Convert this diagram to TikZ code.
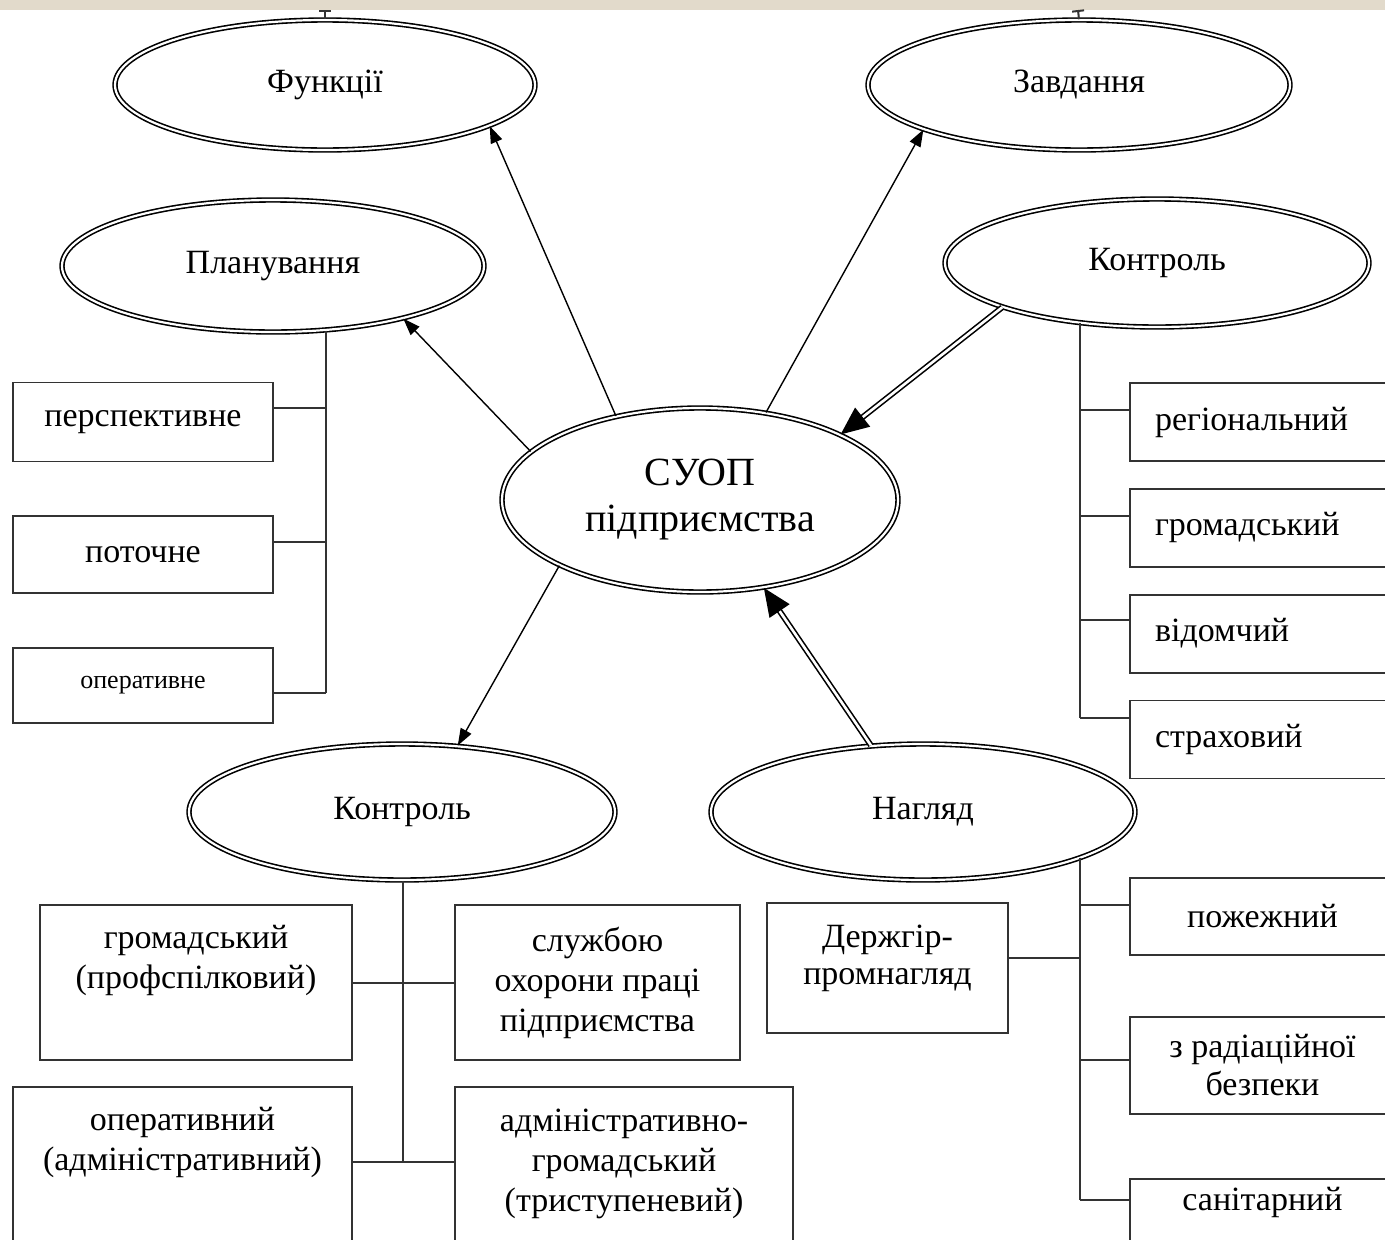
\documentclass[tikz,border=0pt]{standalone}
\usepackage{fontspec}
\setmainfont{Liberation Serif}
\usetikzlibrary{shapes.geometric,arrows.meta,positioning}
\definecolor{slidebg}{RGB}{226,218,203}

\begin{document}
\begin{tikzpicture}[
        x=1pt, y=1pt,
        font=\fontsize{34}{40}\selectfont,
        oval/.style={ellipse, draw=black, double, double distance=2.2pt, line width=1.6pt, inner sep=0pt, align=center},
        box/.style={rectangle, draw=black!80, line width=1.8pt, inner sep=0pt, align=center},
        rbox/.style={box, minimum height=78pt, text width=245pt, align=left, inner xsep=25pt},
        link/.style={draw=black!80, line width=2pt},
        arr/.style={line width=1.4pt, -{Triangle[length=17pt,width=12pt]}},
        dblarr/.style={double, double distance=2.6pt, line width=1.6pt, -{Triangle[length=28pt,width=24pt]}}]
        % BACKGROUND
        \fill[white] (0,0) rectangle (1385,-1240);
        \fill[slidebg] (0,0) rectangle (1385,-10);
        \useasboundingbox (0,0) rectangle (1385,-1240);

        % NODES
        % ellipses
        \node[oval, minimum width=420pt, minimum height=130pt] (func) at (325,-85) {Функції};
        \node[oval, minimum width=422pt, minimum height=130pt] (task) at (1079,-85) {Завдання};
        \node[oval, minimum width=422pt, minimum height=132pt] (plan) at (273,-266) {Планування};
        \node[oval, minimum width=424pt, minimum height=128pt] (ctrlR) at (1157,-263) {Контроль};
        \node[oval, minimum width=396pt, minimum height=184pt, font=\fontsize{40}{46}\selectfont] (suop) at (700,-500) {СУОП\\підприємства};
        \node[oval, minimum width=426pt, minimum height=136pt] (ctrlB) at (402,-812) {Контроль};
        \node[oval, minimum width=424pt, minimum height=136pt] (nagl) at (923,-812) {Нагляд};
        % planning boxes
        \node[box, minimum width=260pt, minimum height=79pt] (persp) at (143,-422) {перспективне};
        \node[box, minimum width=260pt, minimum height=77pt, below=53pt of persp] (potoch) {поточне};
        \node[box, minimum width=260pt, minimum height=75pt, below=53pt of potoch, font=\fontsize{26}{30}\selectfont] (operat) {оперативне};
        % control boxes (right)
        \node[rbox] (reg) at (1277.5,-422) {регіональний};
        \node[rbox, below=26pt of reg] (grom) {громадський};
        \node[rbox, below=26pt of grom] (vidom) {відомчий};
        \node[rbox, below=26pt of vidom] (strakh) {страховий};
        % control boxes (bottom)
        \node[box, minimum width=312pt, minimum height=155pt,
              label={[anchor=north, align=center, inner sep=0pt, yshift=-21pt]north:громадський\\(профспілковий)}] (gk) at (196,-982.5) {};
        \node[box, minimum width=285pt, minimum height=155pt] (sl) at (597.5,-982.5) {службою\\охорони праці\\підприємства};
        \node[box, minimum width=339pt, minimum height=173pt,
              label={[anchor=north, align=center, inner sep=0pt, yshift=-21pt]north:оперативний\\(адміністративний)}] (op) at (182.5,-1173.5) {};
        \node[box, minimum width=338pt, minimum height=173pt,
              label={[anchor=north, align=center, inner sep=0pt, yshift=-23pt]north:адміністративно-\\громадський\\(триступеневий)}] (adm) at (624,-1173.5) {};
        % supervision boxes
        \node[box, minimum width=241pt, minimum height=130pt,
              label={[anchor=north, align=center, inner sep=0pt, yshift=-23pt, font=\fontsize{34}{37}\selectfont]north:Держгір-\\промнагляд}] (dgp) at (887.5,-968) {};
        \node[box, minimum width=265pt, minimum height=77pt] (pozh) at (1262.5,-916.5) {пожежний};
        \node[box, minimum width=265pt, minimum height=97pt, below=60pt of pozh, font=\fontsize{34}{38}\selectfont] (rad) {з радіаційної\\безпеки};
        \node[box, minimum width=265pt, minimum height=85pt, below=63pt of rad,
              label={[anchor=north, align=center, inner sep=0pt, yshift=-9pt]north:санітарний}] (san) {};

        % TREES
        \coordinate (ftop) at (325,-10);
        \coordinate (ttop) at (1078,-10);
        \draw[link, -{Bar[width=12pt]}] (func.north) -- (ftop);
        \draw[link, -{Bar[width=12pt]}] (task.north) -- (ttop);
        % planning
        \coordinate (pl) at (326,-693);
        \draw[link] (plan.-50 -| pl) -- (pl);
        \draw[link] ([yshift=14pt]persp.east) -- ([yshift=14pt]persp.east -| pl);
        \draw[link] ([yshift=13pt]potoch.east) -- ([yshift=13pt]potoch.east -| pl);
        \draw[link] (operat.east |- pl) -- (pl);
        % control (right)
        \coordinate (kr) at (1080,-718);
        \draw[link] (ctrlR.218 -| kr) -- (kr);
        \draw[link] ([yshift=12pt]reg.west) -- ([yshift=12pt]reg.west -| kr);
        \draw[link] ([yshift=12pt]grom.west) -- ([yshift=12pt]grom.west -| kr);
        \draw[link] ([yshift=14pt]vidom.west) -- ([yshift=14pt]vidom.west -| kr);
        \draw[link] (kr) -- (kr -| strakh.west);
        % control (bottom)
        \coordinate (kb) at (403,-1162);
        \draw[link] (ctrlB.south -| kb) -- (kb);
        \draw[link] (gk.east) -- (sl.west);
        \draw[link] (op.east |- kb) -- (adm.west |- kb);
        % supervision
        \coordinate (kn) at (1080,-1200);
        \draw[link] (nagl.-16 -| kn) -- (kn);
        \draw[link] ([yshift=10pt]dgp.east) -- ([yshift=10pt]dgp.east -| kn);
        \draw[link] ([yshift=11.5pt]pozh.west) -- ([yshift=11.5pt]pozh.west -| kn);
        \draw[link] ([yshift=5pt]rad.west) -- ([yshift=5pt]rad.west -| kn);
        \draw[link] (kn) -- (kn -| san.west);

        % ARROWS
        \draw[arr] (suop.135) -- (func.-14);
        \draw[arr] (suop.53) -- (task.196);
        \draw[arr] (suop.164) -- (plan.-22);
        \draw[arr] (suop.205) -- (ctrlB.50);
        \draw[dblarr] (ctrlR.196) -- (suop.25);
        \draw[dblarr] (nagl.128) -- (suop.-54);
    \end{tikzpicture}
\end{document}
